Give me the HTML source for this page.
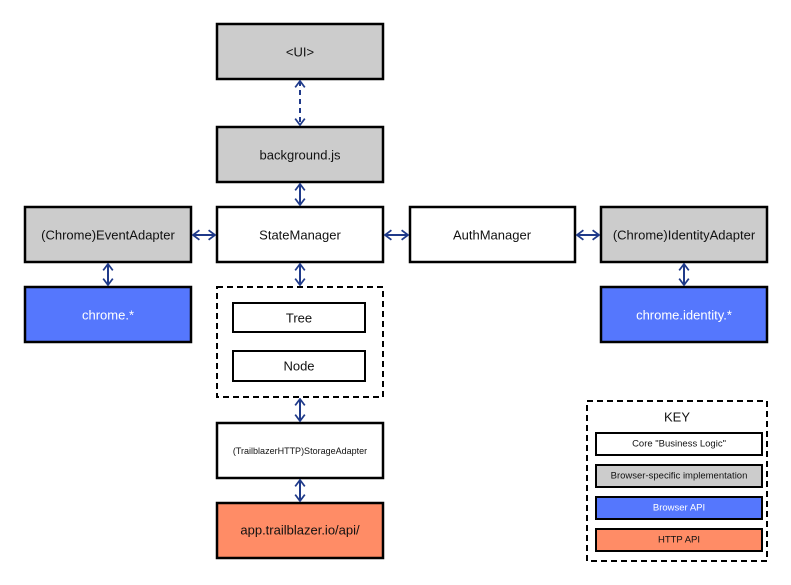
<!DOCTYPE html>
<html><head><meta charset="utf-8"><style>html,body{margin:0;padding:0;background:#fff}svg{display:block}text{font-family:"Liberation Sans",sans-serif;fill:#111;text-anchor:middle;dominant-baseline:central}</style></head>
<body>
<svg width="791" height="585" viewBox="0 0 791 585" xmlns="http://www.w3.org/2000/svg">
<defs>
<marker id="a" viewBox="0 0 10 14" refX="9" refY="7" markerWidth="8" markerHeight="12" orient="auto-start-reverse" markerUnits="userSpaceOnUse"><path d="M1,1 L9,7 L1,13" fill="none" stroke="#1f3a8a" stroke-width="2.2"/></marker>
</defs>
<g stroke="#000" stroke-width="2.5">
<rect x="217" y="24" width="166" height="55" fill="#cccccc"/>
<rect x="217" y="127" width="166" height="55" fill="#cccccc"/>
<rect x="217" y="207" width="166" height="55" fill="#fff"/>
<rect x="25" y="207" width="166" height="55" fill="#cccccc"/>
<rect x="410" y="207" width="165" height="55" fill="#fff"/>
<rect x="601" y="207" width="166" height="55" fill="#cccccc"/>
<rect x="25" y="287" width="166" height="55" fill="#5577fd"/>
<rect x="601" y="287" width="166" height="55" fill="#5577fd"/>
<rect x="217" y="287" width="166" height="110" fill="none" stroke-dasharray="6,4" stroke-width="2"/>
<rect x="233" y="303" width="132" height="29" fill="#fff" stroke-width="2"/>
<rect x="233" y="351" width="132" height="30" fill="#fff" stroke-width="2"/>
<rect x="217" y="423" width="166" height="55" fill="#fff"/>
<rect x="217" y="503" width="166" height="55" fill="#ff8c66"/>
<rect x="587" y="401" width="180" height="160" fill="none" stroke-dasharray="6,4" stroke-width="2"/>
<rect x="596" y="433" width="166" height="22" fill="#fff" stroke-width="2"/>
<rect x="596" y="465" width="166" height="22" fill="#cccccc" stroke-width="2"/>
<rect x="596" y="497" width="166" height="22" fill="#5577fd" stroke-width="2"/>
<rect x="596" y="529" width="166" height="22" fill="#ff8c66" stroke-width="2"/>
</g>
<g stroke="#1f3a8a" stroke-width="2" fill="none" marker-start="url(#a)" marker-end="url(#a)">
<line x1="300" y1="81" x2="300" y2="125" stroke-dasharray="5,4"/>
<line x1="300" y1="184" x2="300" y2="205"/>
<line x1="193" y1="235" x2="215" y2="235"/>
<line x1="385" y1="235" x2="408" y2="235"/>
<line x1="577" y1="235" x2="599" y2="235"/>
<line x1="108" y1="264" x2="108" y2="285"/>
<line x1="684" y1="264" x2="684" y2="285"/>
<line x1="300" y1="264" x2="300" y2="285"/>
<line x1="300" y1="399" x2="300" y2="421"/>
<line x1="300" y1="480" x2="300" y2="501"/>
</g>
<text x="300" y="52" font-size="13">&lt;UI&gt;</text>
<text x="300" y="155" font-size="13">background.js</text>
<text x="300" y="235" font-size="13">StateManager</text>
<text x="108" y="235" font-size="13">(Chrome)EventAdapter</text>
<text x="492" y="235" font-size="13">AuthManager</text>
<text x="684" y="235" font-size="13">(Chrome)IdentityAdapter</text>
<text x="108" y="315" font-size="13" style="fill:#fff">chrome.*</text>
<text x="684" y="315" font-size="13" style="fill:#fff">chrome.identity.*</text>
<text x="299" y="318" font-size="13">Tree</text>
<text x="299" y="366" font-size="13">Node</text>
<text x="300" y="451" font-size="9">(TrailblazerHTTP)StorageAdapter</text>
<text x="300" y="530" font-size="13">app.trailblazer.io/api/</text>
<text x="677" y="417" font-size="13">KEY</text>
<text x="679" y="444" font-size="9.5">Core "Business Logic"</text>
<text x="679" y="476" font-size="9.5">Browser-specific implementation</text>
<text x="679" y="508" font-size="9.5" style="fill:#fff">Browser API</text>
<text x="679" y="540" font-size="9.5">HTTP API</text>
</svg>
</body></html>
